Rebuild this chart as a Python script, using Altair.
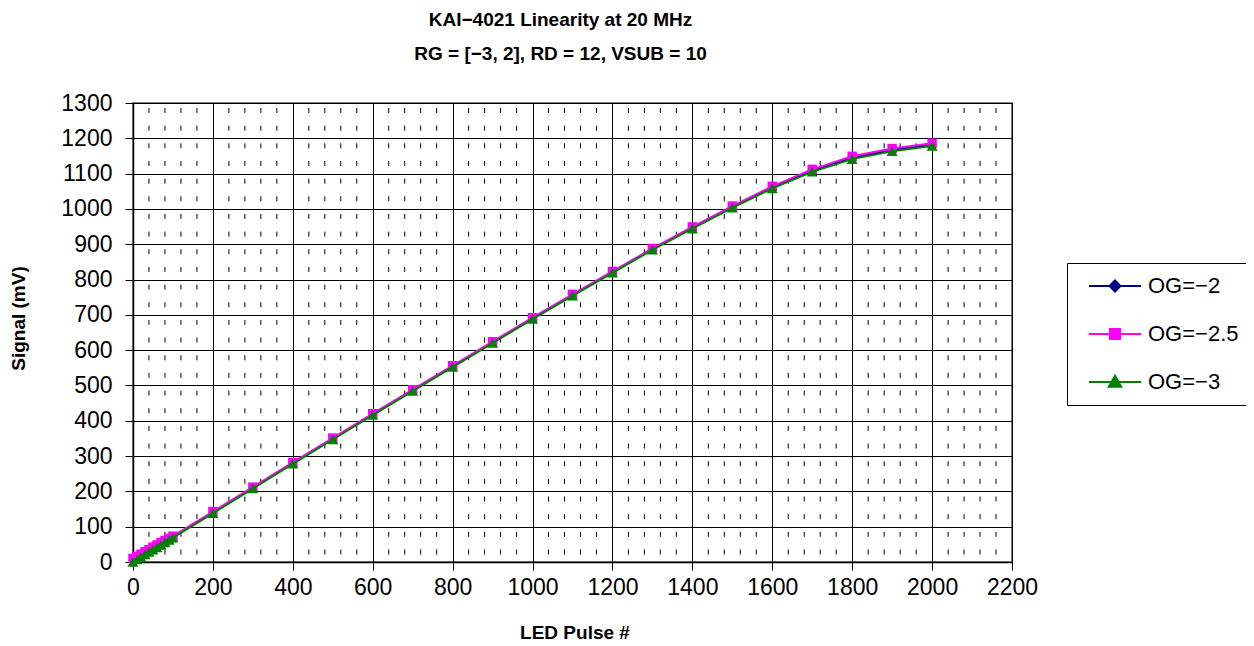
import altair as alt
import pandas as pd

pulses = [0, 10, 20, 30, 40, 50, 60, 70, 80, 90, 100,
          200, 300, 400, 500, 600, 700, 800, 900, 1000,
          1100, 1200, 1300, 1400, 1500, 1600, 1700, 1800, 1900, 2000]
og_m2 = [3, 9, 16, 23, 30, 37, 44, 51, 58, 64, 71,
         140, 210, 280, 349, 418, 486, 554, 622, 690,
         756, 821, 886, 946, 1006, 1061, 1108, 1145, 1167, 1182]
og_m25 = [10, 16, 22, 29, 35, 42, 48, 55, 61, 67, 73,
          143, 212, 282, 351, 420, 488, 556, 624, 692,
          758, 823, 888, 949, 1008, 1064, 1112, 1149, 1171, 1186]
og_m3 = [0, 7, 14, 21, 28, 35, 41, 48, 55, 62, 69,
         138, 208, 278, 347, 416, 484, 552, 620, 688,
         754, 819, 884, 944, 1003, 1058, 1105, 1141, 1163, 1178]

series_names = ["OG=\u22122", "OG=\u22122.5", "OG=\u22123"]
series_colors = ["#000080", "#FF00FF", "#008000"]
plot_shapes = ["diamond", "square", "triangle-up"]
plot_sizes = [80, 90, 120]
legend_paths = [
    "M-2.6,0H2.6M0,-0.55L0.55,0L0,0.55L-0.55,0Z",
    "M-2.6,0H2.6M-0.5,-0.5H0.5V0.5H-0.5Z",
    "M-2.6,0H2.6M0,-0.62L0.62,0.48H-0.62Z",
]
minor_x = [v for v in range(40, 2200, 40) if v % 200 != 0]

x_ticks = list(range(0, 2201, 200))
y_ticks = list(range(0, 1301, 100))

W, H = 879, 459
FONT = "Liberation Sans"

frames = []
for name, vals in zip(series_names, [og_m2, og_m25, og_m3]):
    frames.append(pd.DataFrame({"pulse": pulses, "signal": vals, "series": name}))
df = pd.concat(frames, ignore_index=True)

xscale = alt.Scale(domain=[0, 2200], nice=False, zero=False)
yscale = alt.Scale(domain=[0, 1300], nice=False)

xenc = alt.X("pulse:Q", scale=xscale,
             axis=alt.Axis(values=x_ticks, title="LED Pulse #", grid=True, format="d",
                           labelFlush=False, labelOverlap=False,
                           titleX=W / 2 + 2, titleY=70, titleBaseline="middle"))
yenc = alt.Y("signal:Q", scale=yscale,
             axis=alt.Axis(values=y_ticks, title="Signal (mV)", grid=True, format="d",
                           labelFlush=False, labelOverlap=False,
                           titleX=-115, titleY=215, titleBaseline="middle",
                           titleAlign="center"))

minor = alt.Chart(pd.DataFrame({"m": minor_x})).mark_rule(
    color="black", strokeWidth=1, strokeDash=[5, 12.66], strokeDashOffset=12.66
).encode(x=alt.X("m:Q", scale=xscale))

layers = [minor]
for name, col, shp, sz in zip(series_names, series_colors, plot_shapes, plot_sizes):
    sub = alt.Chart(df).transform_filter(alt.datum.series == name)
    layers.append(sub.mark_line(color=col, strokeWidth=2).encode(x=xenc, y=yenc))
    layers.append(sub.mark_point(shape=shp, filled=True, color=col, size=sz, opacity=1)
                  .encode(x=xenc, y=yenc))

legend_layer = alt.Chart(df).transform_filter("false").mark_point(
    filled=True, opacity=1, strokeWidth=2
).encode(
    x=xenc, y=yenc,
    fill=alt.Fill("series:N", scale=alt.Scale(domain=series_names, range=series_colors),
                  legend=alt.Legend(title=None)),
    stroke=alt.Stroke("series:N", scale=alt.Scale(domain=series_names, range=series_colors),
                      legend=alt.Legend(title=None)),
    shape=alt.Shape("series:N", scale=alt.Scale(domain=series_names, range=legend_paths),
                    legend=alt.Legend(title=None)),
)
layers.append(legend_layer)

chart = alt.layer(*layers).properties(
    width=W, height=H,
    title=alt.TitleParams(
        text=["KAI\u22124021 Linearity at 20 MHz", "RG = [\u22123, 2], RD = 12, VSUB = 10"],
        font=FONT, fontSize=19, fontWeight="bold", color="black",
        lineHeight=34, offset=28, dx=-12, anchor="middle",
    ),
    autosize=alt.AutoSizeParams(type="none"),
    padding={"left": 125, "top": 95, "right": 234, "bottom": 82},
).configure_view(
    stroke="#808080", strokeWidth=2
).configure_axis(
    labelFont=FONT, labelFontSize=23, labelColor="black",
    titleFont=FONT, titleFontSize=19, titleFontWeight="bold", titleColor="black",
    tickColor="black", tickSize=8, tickWidth=1,
    domainColor="black", domainWidth=1.5,
    gridColor="black", gridWidth=1, gridOpacity=1,
    labelPadding=6,
).configure_axisY(labelPadding=13).configure_legend(
    orient="none", legendX=934, legendY=160,
    strokeColor="black", fillColor="white", padding=12,
    symbolSize=400, symbolOffset=25, labelOffset=22,
    labelFont=FONT, labelFontSize=22, labelColor="black",
    rowPadding=26, symbolStrokeWidth=2,
)

chart.save("out.html", embed_options={"renderer": "svg", "actions": False})
